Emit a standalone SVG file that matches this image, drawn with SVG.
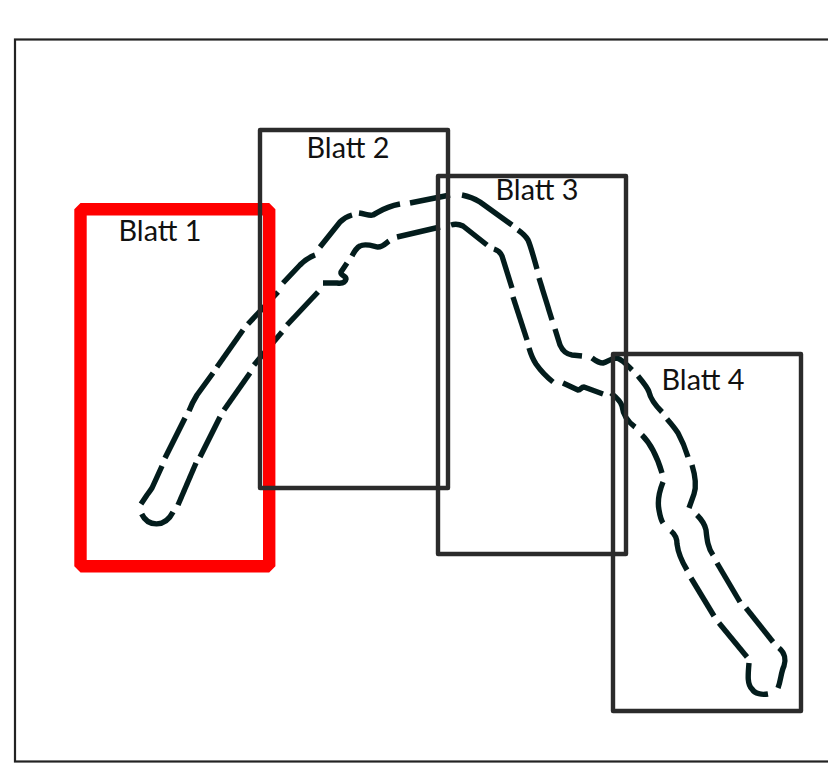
<svg xmlns="http://www.w3.org/2000/svg" width="828" height="764" viewBox="0 0 828 764">
<style>
.sheet{fill:none;stroke:#2b2b2b;stroke-width:4.4;stroke-linejoin:round}
.red{fill:none;stroke:#ff0000;stroke-width:12.4;stroke-linejoin:bevel}
.lbl{font-family:"Lato","Liberation Sans",sans-serif;font-size:28.8px;fill:#111}
.dash{fill:none;stroke:#031c1c;stroke-width:5.4;stroke-linecap:butt;stroke-linejoin:round}
</style>
<rect width="828" height="764" fill="#fff"/>
<rect id="frame" x="15" y="39.5" width="830" height="722" fill="none" stroke="#222" stroke-width="2.2"/>
<g id="connectors" class="dash">
<path d="M141.7 514C148 527 165 528 173 512"/>
<path d="M141 504L147 495Q150 491 152 488L162 466"/>
<path d="M165 458L185 418"/>
<path d="M189 411Q192 403 197 395L213 373"/>
<path d="M217 367L243 330"/>
<path d="M248 324L278 292"/>
<path d="M283 283L300 265Q307 258 315 255"/>
<path d="M320 247L340 222Q345 217 352 215"/>
<path d="M359 213C366 214 369 216 373 215C379 212 384 207 400 204"/>
<path d="M410 203L450 195"/>
<path d="M462 195Q472 197 480 202L512 225"/>
<path d="M518 230Q525 235 528 240Q530 244 537 269"/>
<path d="M539 278L552 320"/>
<path d="M555 329L560 345Q564 354 572 355L582 356"/>
<path d="M592 358C596 361 600 363 603 363C608 362 611 358 617 358C623 360 628 366 632 370"/>
<path d="M638 376C643 382 648 388 649 392C651 401 658 408 662 412"/>
<path d="M667 419Q674 427 678 433Q684 444 688 457"/>
<path d="M692 465C696 478 696 488 694 494L689 508"/>
<path d="M697 515C702 520 705 525 706 530C707 540 708 548 713 555"/>
<path d="M717 563L740 602"/>
<path d="M746 608L773 642"/>
<path d="M779 648C785 653 786 660 784 666C781 672 781 680 778 688"/>
<path d="M749 663C748 675 747 684 752 689C755 694 762 695 768 694"/>
<path d="M178 505L196 463"/>
<path d="M200 457L220 417"/>
<path d="M224 410L250 373"/>
<path d="M254 365L282 332"/>
<path d="M287 325L318 292"/>
<path d="M323 283H337Q345 284 346 279C346 275 340 276 341 272L347 263"/>
<path d="M352 256Q356 248 360 246C365 243 373 246 378 247C383 247 386 243 389 241"/>
<path d="M397 237L440 227"/>
<path d="M451 225Q457 223 463 226L487 245"/>
<path d="M494 249Q500 251 502 256L512 288"/>
<path d="M513 297L527 340"/>
<path d="M529 348Q532 358 536 364Q543 374 553 382"/>
<path d="M563 383L578 390C581 390 581 387 584 387L603 394"/>
<path d="M611 393C616 397 621 402 622 406C623 414 628 422 635 427"/>
<path d="M642 435C650 443 657 456 662 473"/>
<path d="M663 482C659 492 657 500 659 510C660 516 661 520 663 523"/>
<path d="M671 531C676 535 677 540 677 544C678 552 681 560 687 570"/>
<path d="M691 578L714 616"/>
<path d="M719 623L747 657"/>
</g>
<g id="blatt1"><rect class="red" x="80.5" y="209.3" width="188.7" height="356.9"/><text class="lbl" x="118.5" y="241">Blatt 1</text></g>
<g id="blatt2"><rect class="sheet" x="260" y="130" width="188" height="358"/><text class="lbl" x="306.5" y="158">Blatt 2</text></g>
<g id="blatt3"><rect class="sheet" x="438" y="176" width="188" height="378"/><text class="lbl" x="495.5" y="200">Blatt 3</text></g>
<g id="blatt4"><rect class="sheet" x="613" y="354" width="188" height="357"/><text class="lbl" x="661.5" y="390">Blatt 4</text></g>
</svg>
